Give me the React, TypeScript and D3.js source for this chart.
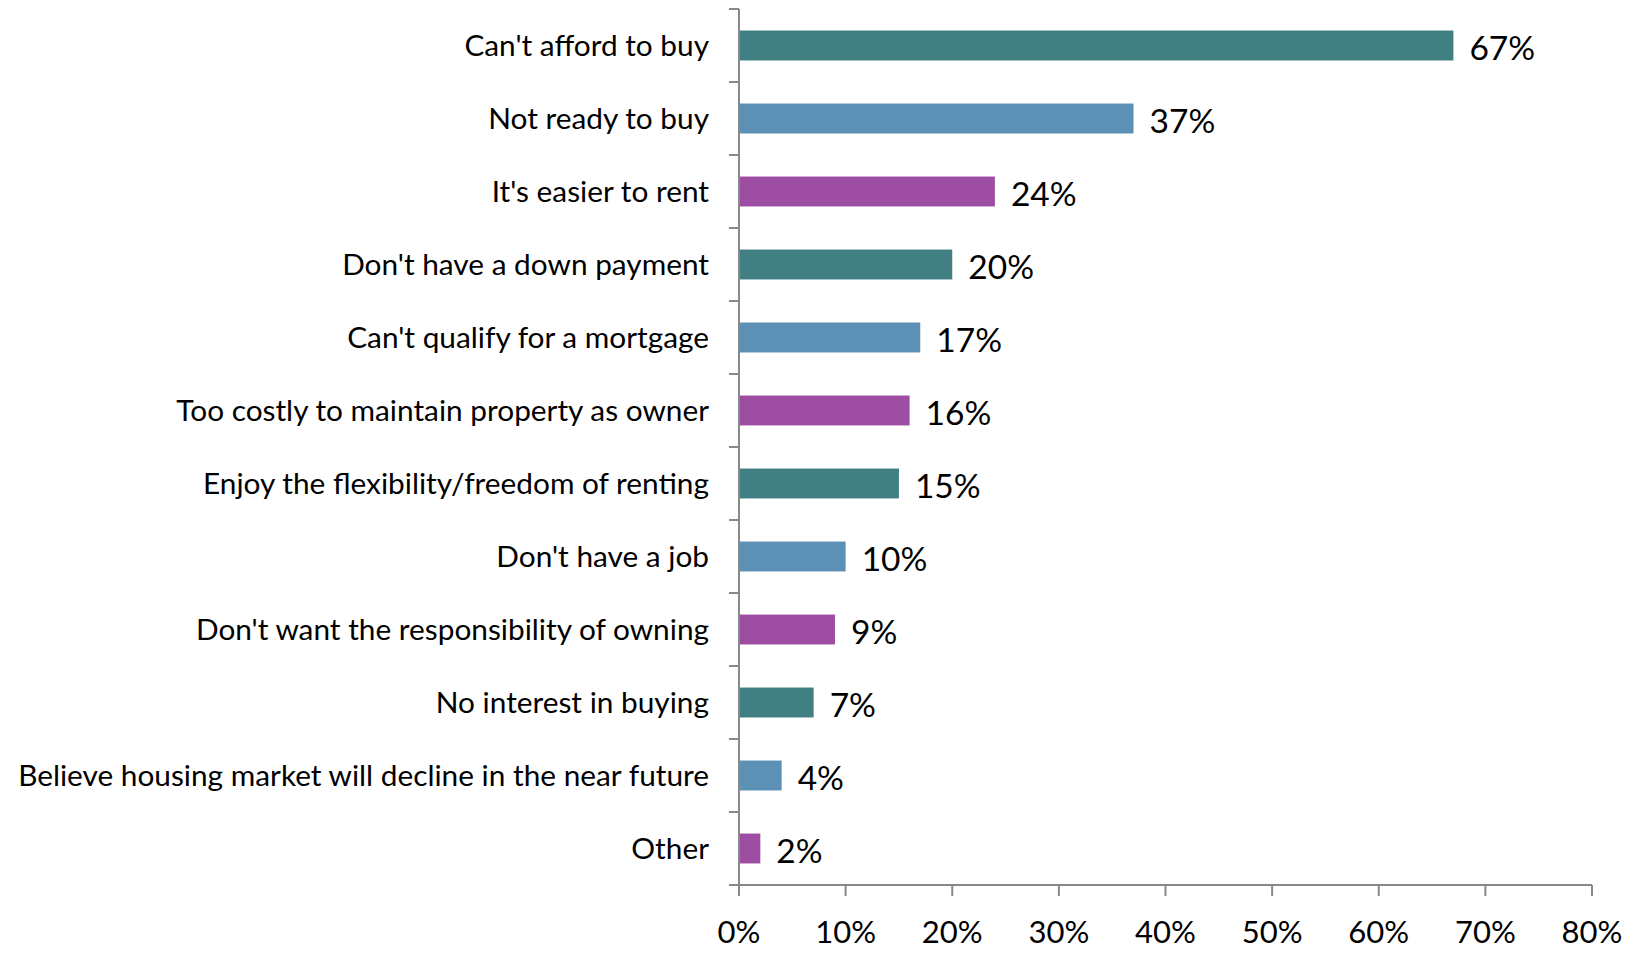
import React from 'react';
import * as d3 from 'd3';

const categories = [
  "Can't afford to buy",
  'Not ready to buy',
  "It's easier to rent",
  "Don't have a down payment",
  "Can't qualify for a mortgage",
  'Too costly to maintain property as owner',
  'Enjoy the flexibility/freedom of renting',
  "Don't have a job",
  "Don't want the responsibility of owning",
  'No interest in buying',
  'Believe housing market will decline in the near future',
  'Other',
];
const values = [67, 37, 24, 20, 17, 16, 15, 10, 9, 7, 4, 2];
const xTicks = [0, 10, 20, 30, 40, 50, 60, 70, 80];
const palette = ['#427f83', '#5c90b5', '#9e4ea2'];

const W = 1635;
const H = 953;
const left = 739;
const right = 1592;
const top = 9;
const bottom = 885;

export default function App() {
  const x = d3.scaleLinear().domain([0, 80]).range([left, right]);
  const y = d3.scaleBand<string>().domain(categories).range([top, bottom]).paddingInner(0.59).paddingOuter(0.295);
  const band = (bottom - top) / categories.length;
  const font = 'Lato, "Open Sans", sans-serif';

  return (
    <svg width={W} height={H} style={{ position: 'absolute', left: 0, top: 0, background: '#fff' }}>
      {categories.map((c, i) => (
        <g key={c}>
          <rect x={x(0)} y={y(c)} width={x(values[i]) - x(0)} height={y.bandwidth()} fill={palette[i % 3]} />
          <text x={709} y={y(c)! + y.bandwidth() / 2} dy="0.36em" textAnchor="end" fontFamily={font} fontSize={29.8} fill="#000">
            {c}
          </text>
          <text x={x(values[i]) + 16} y={y(c)! + y.bandwidth() / 2} dy="0.42em" fontFamily={font} fontSize={33.5} fill="#000">
            {values[i]}%
          </text>
        </g>
      ))}
      <g stroke="#888" strokeWidth={2} fill="none">
        <line x1={left} x2={left} y1={top} y2={bottom} />
        <line x1={left} x2={right} y1={bottom} y2={bottom} />
        {d3.range(categories.length + 1).map((i) => (
          <line key={i} x1={left - 10} x2={left} y1={top + i * band} y2={top + i * band} />
        ))}
        {xTicks.map((t) => (
          <line key={t} x1={x(t)} x2={x(t)} y1={bottom} y2={bottom + 11} />
        ))}
      </g>
      {xTicks.map((t) => (
        <text key={t} x={x(t)} y={943} textAnchor="middle" fontFamily={font} fontSize={31} fill="#000">
          {t}%
        </text>
      ))}
    </svg>
  );
}
